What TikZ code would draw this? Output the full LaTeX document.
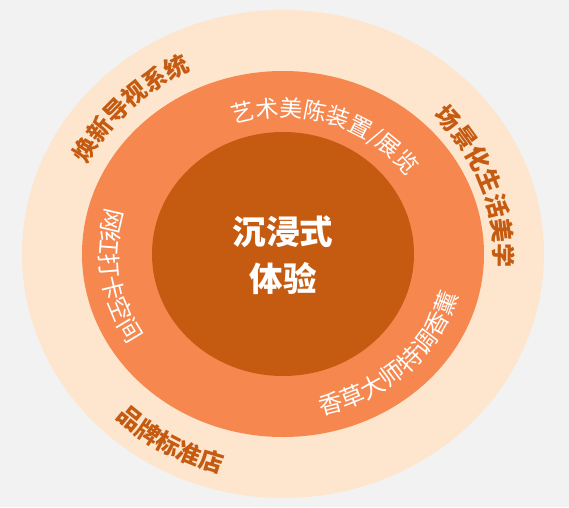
\documentclass[tikz,border=0pt]{standalone}
\usepackage{fontspec}
\newfontfamily\cjk{Noto Sans CJK SC}
\usetikzlibrary{decorations.text}
\definecolor{bggray}{HTML}{F2F2F2}
\definecolor{ringpeach}{HTML}{FDE6CD}
\definecolor{ringorange}{HTML}{F5874F}
\definecolor{coreorange}{HTML}{C55A11}
\newcommand\outerfont{\cjk\bfseries\fontsize{24}{24}\selectfont}
\newcommand\innerfont[1]{\cjk\fontsize{#1}{#1}\selectfont}
\begin{document}
\begin{tikzpicture}[x=1pt, y=1pt,
    outerlabel/.style={decorate, decoration={text along path, text align=center, text color=coreorange}},
    innerlabel/.style={decorate, decoration={text along path, text align=center, text color=white}}]
    \fill[bggray] (-283,-253) rectangle (286,254);
    \fill[ringpeach] (0,0) ellipse [x radius=261, y radius=244];
    \fill[ringorange] (0,0) ellipse [x radius=201, y radius=183];
    \fill[coreorange] (0,0) ellipse [x radius=131, y radius=122];
    \node[text=white, align=center, font=\cjk\bfseries\fontsize{33.5}{47}\selectfont] (core) at (0,-1.5) {沉浸式\\体验};
    \path[outerlabel, decoration={text={|\outerfont|焕新导视系统}}] (175:218 and 203) arc[start angle=175, end angle=95, x radius=218, y radius=203];
    \path[outerlabel, decoration={text={|\outerfont|场景化生活美学}}] (60:211 and 197) arc[start angle=60, end angle=-20, x radius=211, y radius=197];
    \path[outerlabel, decoration={text={|\outerfont|品牌标准店}}] (200:242 and 227) arc[start angle=200, end angle=280, x radius=242, y radius=227];
    \path[innerlabel, decoration={text={|\innerfont{23}|艺术美陈装置/展览}}] (130:151 and 137) arc[start angle=130, end angle=12, x radius=151, y radius=137];
    \path[innerlabel, decoration={text={|\innerfont{24}|香草大师特调香薰}}] (-100:181 and 165) arc[start angle=-100, end angle=10, x radius=181, y radius=165];
    \path[innerlabel, decoration={text={|\innerfont{24}|网红打卡空间}}] (140:183 and 167) arc[start angle=140, end angle=236, x radius=183, y radius=167];
\end{tikzpicture}
\end{document}
